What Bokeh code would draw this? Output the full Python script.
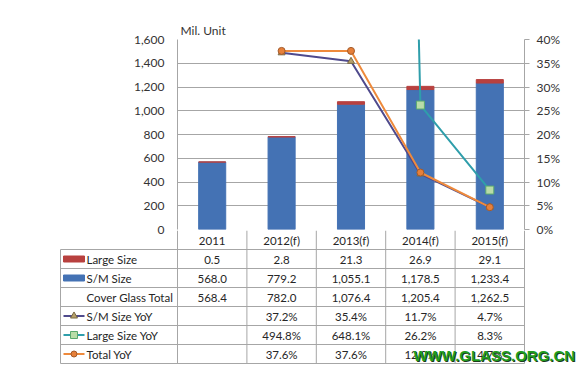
from bokeh.plotting import figure
from bokeh.layouts import column
from bokeh.models import (Range1d, FactorRange, LinearAxis, SingleIntervalTicker,
                          NumeralTickFormatter, PrintfTickFormatter)
from bokeh.core.properties import value
from bokeh.embed import file_html
from bokeh.resources import INLINE

# ---------------- data ----------------
years = ["2011", "2012(f)", "2013(f)", "2014(f)", "2015(f)"]
large_size = [0.5, 2.8, 21.3, 26.9, 29.1]
sm_size = [568.0, 779.2, 1055.1, 1178.5, 1233.4]
cover_total = [568.4, 782.0, 1076.4, 1205.4, 1262.5]
sm_yoy = [None, 37.2, 35.4, 11.7, 4.7]
large_yoy = [None, 494.8, 648.1, 26.2, 8.3]
total_yoy = [None, 37.6, 37.6, 12.0, 4.7]
unit_label = "Mil. Unit"
watermark = "WWW.GLASS.ORG.CN"

# ---------------- styling / layout ----------------
FONT = value("Lato")
W, H = 584, 377
FRAME_BOTTOM = 229
TOP_H = 238
OVERLAP = 8
LEFT, RIGHT = 177, 524
CW = (RIGHT - LEFT) / len(years)
RH = 19.0
GRID = "#a6a6a6"
BLUE = "#4472b4"
RED = "#b8413f"
PURPLE = "#4f4a8c"
TEAL = "#2f9eab"
ORANGE = "#ee8a3c"

# ---------------- chart ----------------
p = figure(width=W, height=TOP_H, x_range=FactorRange(factors=years, range_padding=0),
           y_range=Range1d(0, 1600), output_backend="svg", toolbar_location=None,
           x_axis_location=None, min_border_left=LEFT, min_border_right=W - RIGHT,
           min_border_top=39, min_border_bottom=TOP_H - FRAME_BOTTOM)
p.frame_align = False
p.outline_line_color = None
p.xgrid.grid_line_color = None
p.ygrid.grid_line_color = GRID
p.ygrid.ticker = SingleIntervalTicker(interval=200)
p.yaxis.ticker = SingleIntervalTicker(interval=200)
p.yaxis.formatter = NumeralTickFormatter(format="0,0")
p.yaxis.major_tick_out = 0
p.yaxis.major_tick_in = 0
p.yaxis.minor_tick_out = 0
p.yaxis.minor_tick_in = 0
p.yaxis.axis_line_color = GRID
p.yaxis.major_label_standoff = 13
p.yaxis.major_label_text_font = "Lato"
p.yaxis.major_label_text_font_size = "12px"
p.yaxis.major_label_text_color = "#333333"

p.title.text = unit_label
p.title.align = "left"
p.title.offset = 3
p.title.standoff = 3
p.title.text_font = "Lato"
p.title.text_font_size = "12px"
p.title.text_font_style = "normal"
p.title.text_color = "#333333"

p.extra_y_ranges = {"pct": Range1d(0, 40)}
ra = LinearAxis(y_range_name="pct", ticker=SingleIntervalTicker(interval=5),
                formatter=PrintfTickFormatter(format="%d%%"))
ra.axis_line_color = GRID
ra.major_tick_line_color = GRID
ra.major_tick_out = 5
ra.major_tick_in = 0
ra.minor_tick_out = 0
ra.minor_tick_in = 0
ra.major_label_standoff = 7
ra.major_label_text_font = "Lato"
ra.major_label_text_font_size = "12px"
ra.major_label_text_color = "#333333"
p.add_layout(ra, "right")

stack_top = [s + l for s, l in zip(sm_size, large_size)]
p.vbar(x=years, bottom=0, top=sm_size, width=0.39, color=BLUE)
p.vbar(x=years, bottom=sm_size, top=stack_top, width=0.39, color=RED)

nan = float("nan")


def clean(vals):
    return [nan if v is None else v for v in vals]


p.line(x=years, y=clean(large_yoy), y_range_name="pct", color=TEAL, line_width=2)
p.scatter(x=years, y=clean(large_yoy), y_range_name="pct", marker="square", size=8,
          fill_color="#b9dca8", line_color="#5aa86e", line_width=1)
p.line(x=years, y=clean(sm_yoy), y_range_name="pct", color=PURPLE, line_width=2)
p.scatter(x=years, y=clean(sm_yoy), y_range_name="pct", marker="triangle", size=7,
          fill_color="#b7a16a", line_color="#7a6a45")
p.line(x=years, y=clean(total_yoy), y_range_name="pct", color=ORANGE, line_width=2)
p.scatter(x=years, y=clean(total_yoy), y_range_name="pct", marker="circle", size=7,
          fill_color="#e6803a", line_color="#a35a2a")

# ---------------- data table ----------------
BH = H - TOP_H + OVERLAP
TOP0 = FRAME_BOTTOM + 1
q = figure(width=W, height=BH, x_range=Range1d(-LEFT / CW, (W - LEFT) / CW),
           y_range=Range1d(BH / RH, 0), output_backend="svg", toolbar_location=None,
           x_axis_location=None, y_axis_location=None, min_border=0,
           min_border_left=0, min_border_right=0, min_border_top=0, min_border_bottom=0)
q.frame_align = False
q.margin = (-OVERLAP, 0, 0, 0)
q.outline_line_color = None
q.background_fill_color = None
q.border_fill_color = None
q.grid.visible = False

n = len(years)
rows = [
    ("Large Size", ["{:,.1f}".format(v) for v in large_size]),
    ("S/M Size", ["{:,.1f}".format(v) for v in sm_size]),
    ("Cover Glass Total", ["{:,.1f}".format(v) for v in cover_total]),
    ("S/M Size YoY", ["" if v is None else "{:.1f}%".format(v) for v in sm_yoy]),
    ("Large Size YoY", ["" if v is None else "{:.1f}%".format(v) for v in large_yoy]),
    ("Total YoY", ["" if v is None else "{:.1f}%".format(v) for v in total_yoy]),
]
nrows = len(rows) + 1
x_lab = (60 - LEFT) / CW

# grid lines of the table
hx0, hx1, hy = [], [], []
for r in range(1, nrows + 1):
    hx0.append(x_lab); hx1.append(n); hy.append(r)
q.segment(x0=hx0, y0=hy, x1=hx1, y1=hy, line_color=GRID, line_width=1)
vx = list(range(n + 1))
q.segment(x0=vx, y0=[0] * len(vx), x1=vx, y1=[nrows] * len(vx), line_color=GRID, line_width=1)
q.segment(x0=[x_lab], y0=[1], x1=[x_lab], y1=[nrows], line_color=GRID, line_width=1)

TS = "11.5px"
# header
q.text(x=[i + 0.5 for i in range(n)], y=[0.55] * n, text=years, text_font=FONT,
       text_font_size=TS, text_align="center", text_baseline="middle",
       text_color="#262626")

# cells
cx, cy, ct = [], [], []
for r, (_, vals) in enumerate(rows):
    for i, t in enumerate(vals):
        cx.append(i + 0.5); cy.append(r + 1.55); ct.append(t)
q.text(x=cx, y=cy, text=ct, text_font=FONT, text_font_size=TS,
       text_align="center", text_baseline="middle", text_color="#262626")

# row labels
x_txt = (86 - LEFT) / CW
q.text(x=[x_txt] * len(rows), y=[r + 1.55 for r in range(len(rows))],
       text=[lab for lab, _ in rows], text_font=FONT, text_font_size=TS,
       text_align="left", text_baseline="middle", text_color="#262626")

# legend keys
kx0, kx1 = (63 - LEFT) / CW, (84 - LEFT) / CW
kmid = (kx0 + kx1) / 2
q.rect(x=[kmid], y=[1.5], width=kx1 - kx0, height=6 / RH, color=RED)
q.rect(x=[kmid], y=[2.5], width=kx1 - kx0, height=6 / RH, color=BLUE)
q.segment(x0=[kx0] * 3, x1=[kx1] * 3, y0=[4.5, 5.5, 6.5], y1=[4.5, 5.5, 6.5],
          line_color=[PURPLE, TEAL, ORANGE], line_width=2)
q.scatter(x=[kmid], y=[4.5], marker="triangle", size=7, fill_color="#b7a16a", line_color="#7a6a45")
q.scatter(x=[kmid], y=[5.5], marker="square", size=7, fill_color="#b9dca8", line_color="#5aa86e")
q.scatter(x=[kmid], y=[6.5], marker="circle", size=6, fill_color="#e6803a", line_color="#a35a2a")

# watermark
wx = (413 - LEFT) / CW
wy = (355 - TOP0) / RH
q.text(x=[wx + 0.015], y=[wy + 0.05], text=[watermark],
       text_font=value("Liberation Sans"), text_font_style="bold", text_font_size="15px",
       text_align="left", text_baseline="middle", text_color="#1b3d1b")
q.text(x=[wx], y=[wy], text=[watermark],
       text_font=value("Liberation Sans"), text_font_style="bold", text_font_size="15px",
       text_align="left", text_baseline="middle", text_color="#1f9e1f")

layout = column(p, q, spacing=0)
open("out.html", "w").write(file_html(layout, INLINE))
